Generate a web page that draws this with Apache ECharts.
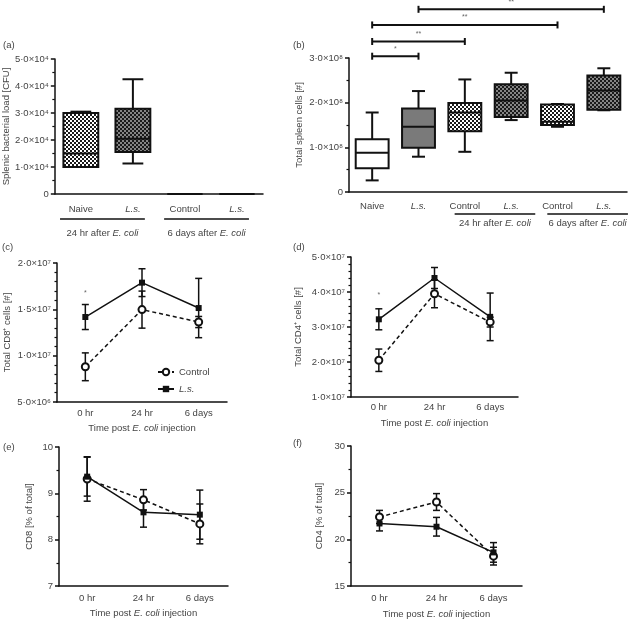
<!DOCTYPE html>
<html><head><meta charset="utf-8">
<script src="https://cdn.jsdelivr.net/npm/echarts@6/dist/echarts.min.js"></script>
<style>html,body{margin:0;padding:0;background:#fff}#c{width:630px;height:620px}</style>
</head><body><div id="c"></div>
<script>
// ---------------- data ----------------
const catsA = ['Naive', 'L.s.', 'Control', 'L.s.'];
const catsB = ['Naive', 'L.s.', 'Control', 'L.s.', 'Control', 'L.s.'];
const groupRangesA = [[0, 1], [2, 3]];
const groupRangesB = [[2, 3], [4, 5]];
const groupLabels = ['24 hr after {i|E. coli}', '6 days after {i|E. coli}'];
// [min, Q1, median, Q3, max]
const boxA = [
  [10000, 10000, 15000, 30000, 30500],
  [11300, 15600, 20500, 31600, 42500],
  [0, 0, 0, 0, 0],
  [0, 0, 0, 0, 0]
];
const boxB = [
  [0.26e8, 0.53e8, 0.88e8, 1.18e8, 1.78e8],
  [0.79e8, 0.99e8, 1.46e8, 1.87e8, 2.26e8],
  [0.90e8, 1.36e8, 1.78e8, 1.99e8, 2.52e8],
  [1.61e8, 1.68e8, 2.05e8, 2.41e8, 2.67e8],
  [1.46e8, 1.50e8, 1.57e8, 1.96e8, 1.97e8],
  [1.83e8, 1.84e8, 2.27e8, 2.61e8, 2.77e8]
];
// significance brackets in (b): [fromCat, toCat, level]
const sigBarsB = [[0, 1, 3.04e8], [0, 2, 3.37e8], [0, 4, 3.74e8], [1, 5, 4.09e8]];
const sigBarLabelsB = ['*', '**', '**', '**'];

const timeCats = ['0 hr', '24 hr', '6 days'];
const cd8CountCtrl = [8.8e6, 1.497e7, 1.363e7];
const cd8CountCtrlErr = [1.5e6, 2.0e6, 0.6e6];
const cd8CountLs = [1.417e7, 1.788e7, 1.514e7];
const cd8CountLsErr = [1.35e6, 1.5e6, 3.2e6];
const cd4CountCtrl = [2.05e7, 3.95e7, 3.14e7];
const cd4CountCtrlErr = [3.2e6, 4.0e6, 1.4e6];
const cd4CountLs = [3.22e7, 4.40e7, 3.29e7];
const cd4CountLsErr = [3.0e6, 3.0e6, 6.8e6];
const cd8PctCtrl = [9.31, 8.86, 8.34];
const cd8PctCtrlErr = [0.48, 0.22, 0.43];
const cd8PctLs = [9.36, 8.59, 8.54];
const cd8PctLsErr = [0.42, 0.32, 0.53];
const cd4PctCtrl = [22.4, 24.0, 18.2];
const cd4PctCtrlErr = [0.7, 0.9, 0.95];
const cd4PctLs = [21.7, 21.35, 18.6];
const cd4PctLsErr = [0.8, 1.0, 1.05];
const sigPointC = [[0, 1.676e7]];
const sigPointD = [[0, 3.91e7]];

const ticksA = ['0', '1·0×10⁴', '2·0×10⁴', '3·0×10⁴', '4·0×10⁴', '5·0×10⁴'];
const ticksB = ['0', '1·0×10⁸', '2·0×10⁸', '3·0×10⁸'];
const ticksC = ['5·0×10⁶', '1·0×10⁷', '1·5×10⁷', '2·0×10⁷'];
const ticksD = ['1·0×10⁷', '2·0×10⁷', '3·0×10⁷', '4·0×10⁷', '5·0×10⁷'];
const ticksE = ['7', '8', '9', '10'];
const ticksF = ['15', '20', '25', '30'];

// ---------------- styles ----------------
const FONT = 'Liberation Sans, Arial, Helvetica, sans-serif';
const FS = 9.5;
const TXT = '#444';
const INK = '#111';
function checker(a, b, s) {
  const c = document.createElement('canvas'); c.width = c.height = s * 2;
  const g = c.getContext('2d'); g.fillStyle = a; g.fillRect(0, 0, 2 * s, 2 * s);
  g.fillStyle = b; g.fillRect(0, 0, s, s); g.fillRect(s, s, s, s); return c;
}
const lightCheck = { image: checker('#ffffff', '#1a1a1a', 2), repeat: 'repeat' };
const darkCheck = { image: checker('#858585', '#1a1a1a', 2), repeat: 'repeat' };
const fillsA = [lightCheck, darkCheck, lightCheck, darkCheck];
const fillsB = ['#ffffff', '#7a7a7a', lightCheck, darkCheck, lightCheck, darkCheck];
const rich = { i: { fontStyle: 'italic', fontSize: FS, color: TXT, fontFamily: FONT } };

function boxRender(fills, bwFrac, capFrac) {
  return function (params, api) {
    const i = params.dataIndex, x = api.value(0);
    const v = [1, 2, 3, 4, 5].map(k => api.value(k));
    const band = api.size([1, 0])[0];
    const bw = band * bwFrac, cw = band * capFrac;
    const cx = api.coord([x, v[2]])[0];
    const Y = t => api.coord([x, t])[1];
    const st = { stroke: INK, lineWidth: 2 };
    return { type: 'group', children: [
      { type: 'line', shape: { x1: cx, y1: Y(v[0]), x2: cx, y2: Y(v[1]) }, style: st },
      { type: 'line', shape: { x1: cx, y1: Y(v[3]), x2: cx, y2: Y(v[4]) }, style: st },
      { type: 'line', shape: { x1: cx - cw / 2, y1: Y(v[0]), x2: cx + cw / 2, y2: Y(v[0]) }, style: st },
      { type: 'line', shape: { x1: cx - cw / 2, y1: Y(v[4]), x2: cx + cw / 2, y2: Y(v[4]) }, style: st },
      { type: 'rect', shape: { x: cx - bw / 2, y: Y(v[3]), width: bw, height: Y(v[1]) - Y(v[3]) }, style: { fill: fills[i], stroke: INK, lineWidth: 2 } },
      { type: 'line', shape: { x1: cx - bw / 2, y1: Y(v[2]), x2: cx + bw / 2, y2: Y(v[2]) }, style: st }
    ] };
  };
}
function groupRender(cfg) {
  return function (params, api) {
    const s = api.value(0), e = api.value(1);
    const band = api.size([1, 0])[0];
    const p0 = api.coord([s, 0]), p1 = api.coord([e, 0]);
    const x0 = p0[0] - band * cfg.l, x1 = p1[0] + band * cfg.r, yl = p0[1] + cfg.lineOff;
    return { type: 'group', children: [
      { type: 'line', shape: { x1: x0, y1: yl, x2: x1, y2: yl }, style: { stroke: INK, lineWidth: 1.5 } },
      { type: 'text', x: (x0 + x1) / 2, y: yl + cfg.textOff, style: { text: groupLabels[params.dataIndex], fill: TXT, fontSize: FS, fontFamily: FONT, align: 'center', verticalAlign: 'middle', rich: rich } }
    ] };
  };
}
function sigRender(params, api) {
  const p0 = api.coord([api.value(0), api.value(2)]), p1 = api.coord([api.value(1), api.value(2)]);
  const st = { stroke: INK, lineWidth: 2 };
  return { type: 'group', children: [
    { type: 'line', shape: { x1: p0[0], y1: p0[1], x2: p1[0], y2: p1[1] }, style: st },
    { type: 'line', shape: { x1: p0[0], y1: p0[1] - 3.5, x2: p0[0], y2: p0[1] + 3.5 }, style: st },
    { type: 'line', shape: { x1: p1[0], y1: p1[1] - 3.5, x2: p1[0], y2: p1[1] + 3.5 }, style: st },
    { type: 'text', x: (p0[0] + p1[0]) / 2, y: p0[1] - 4, style: { text: sigBarLabelsB[params.dataIndex], fill: '#666', fontSize: 7, fontFamily: FONT, align: 'center', verticalAlign: 'bottom' } }
  ] };
}
function starRender(params, api) {
  const p = api.coord([api.value(0), api.value(1)]);
  return { type: 'text', x: p[0], y: p[1], style: { text: '*', fill: '#666', fontSize: 7, fontFamily: FONT, align: 'center', verticalAlign: 'middle' } };
}
function errRender(params, api) {
  const x = api.value(0);
  const p1 = api.coord([x, api.value(1)]), p2 = api.coord([x, api.value(2)]);
  const hw = 3.5, st = { stroke: INK, lineWidth: 1.5 };
  return { type: 'group', children: [
    { type: 'line', shape: { x1: p1[0], y1: p1[1], x2: p2[0], y2: p2[1] }, style: st },
    { type: 'line', shape: { x1: p1[0] - hw, y1: p1[1], x2: p1[0] + hw, y2: p1[1] }, style: st },
    { type: 'line', shape: { x1: p2[0] - hw, y1: p2[1], x2: p2[0] + hw, y2: p2[1] }, style: st }
  ] };
}
const errData = (m, e) => m.map((v, i) => [i, v - e[i], v + e[i]]);

function catAxis(grid, data, margin, extra) {
  return Object.assign({
    type: 'category', gridIndex: grid, data: data, boundaryGap: true,
    axisLine: { onZero: false, lineStyle: { color: INK, width: 1.5 } },
    axisTick: { alignWithLabel: true, interval: 0, length: 4, lineStyle: { color: INK, width: 1.5 } },
    axisLabel: { interval: 0, fontSize: FS, color: TXT, fontFamily: FONT, margin: margin,
      formatter: n => n === 'L.s.' ? '{i|L.s.}' : n, rich: rich },
    splitLine: { show: false }
  }, extra || {});
}
const timeAxisName = {
  name: 'Time post {i|E. coli} injection', nameLocation: 'middle',
  nameTextStyle: { fontSize: FS, color: TXT, fontFamily: FONT, rich: rich }
};
function valAxis(grid, min, max, interval, labels, minorSplit, name, nameGap) {
  return {
    type: 'value', gridIndex: grid, min: min, max: max, interval: interval,
    name: name, nameLocation: 'middle', nameGap: nameGap,
    nameTextStyle: { fontSize: FS, color: TXT, fontFamily: FONT },
    axisLine: { show: true, lineStyle: { color: INK, width: 1.5 } },
    axisTick: { show: true, length: 4, lineStyle: { color: INK, width: 1.5 } },
    minorTick: { show: true, splitNumber: minorSplit, length: 2.5, lineStyle: { color: INK, width: 1.2 } },
    axisLabel: { fontSize: FS, color: TXT, fontFamily: FONT, margin: 6,
      formatter: v => labels[Math.round((v - min) / interval)] },
    splitLine: { show: false }
  };
}
function lineSeries(name, data, gi) {
  const ctrl = name === 'Control';
  return {
    type: 'line', name: name, xAxisIndex: gi, yAxisIndex: gi, data: data, z: 5,
    symbol: ctrl ? 'circle' : 'rect', symbolSize: ctrl ? 7 : 6,
    lineStyle: { color: INK, width: 1.5, type: ctrl ? [4, 3] : 'solid' },
    itemStyle: ctrl ? { color: '#fff', borderColor: INK, borderWidth: 2 } : { color: INK, borderWidth: 0 }
  };
}
const errSeries = (m, e, gi) => ({ type: 'custom', xAxisIndex: gi, yAxisIndex: gi, data: errData(m, e), renderItem: errRender, encode: { x: 0, y: [1, 2] }, z: 3, silent: true });
const panelLabel = (t, l, tp) => ({ type: 'text', left: l, top: tp, style: { text: t, fontSize: FS, fill: TXT, fontFamily: FONT } });

const option = {
  animation: false,
  backgroundColor: '#fff',
  textStyle: { fontFamily: FONT },
  grid: [
    { left: 53, top: 59, width: 210, height: 135 },
    { left: 349, top: 58, width: 278, height: 134 },
    { left: 57, top: 263, width: 170, height: 139 },
    { left: 351, top: 257, width: 167, height: 140 },
    { left: 59, top: 447, width: 169, height: 139 },
    { left: 351, top: 446, width: 171, height: 140 }
  ],
  xAxis: [
    catAxis(0, catsA, 10),
    catAxis(1, catsB, 9),
    catAxis(2, timeCats, 6, Object.assign({ nameGap: 21 }, timeAxisName)),
    catAxis(3, timeCats, 5, Object.assign({ nameGap: 21 }, timeAxisName)),
    catAxis(4, timeCats, 7, Object.assign({ nameGap: 22 }, timeAxisName)),
    catAxis(5, timeCats, 7, Object.assign({ nameGap: 23 }, timeAxisName))
  ],
  yAxis: [
    valAxis(0, 0, 5e4, 1e4, ticksA, 2, 'Splenic bacterial load [CFU]', 43),
    valAxis(1, 0, 3e8, 1e8, ticksB, 2, 'Total spleen cells [#]', 45),
    valAxis(2, 5e6, 2e7, 5e6, ticksC, 5, 'Total CD8⁺ cells [#]', 45),
    valAxis(3, 1e7, 5e7, 1e7, ticksD, 5, 'Total CD4⁺ cells [#]', 48),
    valAxis(4, 7, 10, 1, ticksE, 2, 'CD8 [% of total]', 25),
    valAxis(5, 15, 30, 5, ticksF, 2, 'CD4 [% of total]', 27)
  ],
  legend: {
    data: ['Control', 'L.s.'], orient: 'vertical', left: 152, top: 362,
    itemWidth: 16, itemHeight: 8, itemGap: 7,
    textStyle: { fontSize: FS, color: TXT, fontFamily: FONT, rich: rich },
    formatter: n => n === 'L.s.' ? '{i|L.s.}' : n
  },
  graphic: [
    panelLabel('(a)', 3, 40), panelLabel('(b)', 293, 40),
    panelLabel('(c)', 2, 242), panelLabel('(d)', 293, 242),
    panelLabel('(e)', 3, 442), panelLabel('(f)', 293, 438)
  ],
  series: [
    { type: 'custom', xAxisIndex: 0, yAxisIndex: 0, data: boxA.map((b, i) => [i].concat(b)), renderItem: boxRender(fillsA, 0.67, 0.4), encode: { x: 0, y: [1, 2, 3, 4, 5] }, z: 3 },
    { type: 'custom', xAxisIndex: 0, yAxisIndex: 0, data: groupRangesA, renderItem: groupRender({ l: 0.4, r: 0.23, lineOff: 25, textOff: 14 }), encode: { x: [0, 1] }, clip: false },
    { type: 'custom', xAxisIndex: 1, yAxisIndex: 1, data: boxB.map((b, i) => [i].concat(b)), renderItem: boxRender(fillsB, 0.71, 0.28), encode: { x: 0, y: [1, 2, 3, 4, 5] }, z: 3 },
    { type: 'custom', xAxisIndex: 1, yAxisIndex: 1, data: groupRangesB, renderItem: groupRender({ l: 0.22, r: 0.52, lineOff: 22, textOff: 9 }), encode: { x: [0, 1] }, clip: false },
    { type: 'custom', xAxisIndex: 1, yAxisIndex: 1, data: sigBarsB, renderItem: sigRender, encode: { x: [0, 1], y: 2 }, clip: false },
    // (c)
    errSeries(cd8CountCtrl, cd8CountCtrlErr, 2), errSeries(cd8CountLs, cd8CountLsErr, 2),
    lineSeries('Control', cd8CountCtrl, 2), lineSeries('L.s.', cd8CountLs, 2),
    { type: 'custom', xAxisIndex: 2, yAxisIndex: 2, data: sigPointC, renderItem: starRender, encode: { x: 0, y: 1 } },
    // (d)
    errSeries(cd4CountCtrl, cd4CountCtrlErr, 3), errSeries(cd4CountLs, cd4CountLsErr, 3),
    lineSeries('Control', cd4CountCtrl, 3), lineSeries('L.s.', cd4CountLs, 3),
    { type: 'custom', xAxisIndex: 3, yAxisIndex: 3, data: sigPointD, renderItem: starRender, encode: { x: 0, y: 1 } },
    // (e)
    errSeries(cd8PctCtrl, cd8PctCtrlErr, 4), errSeries(cd8PctLs, cd8PctLsErr, 4),
    lineSeries('Control', cd8PctCtrl, 4), lineSeries('L.s.', cd8PctLs, 4),
    // (f)
    errSeries(cd4PctCtrl, cd4PctCtrlErr, 5), errSeries(cd4PctLs, cd4PctLsErr, 5),
    lineSeries('Control', cd4PctCtrl, 5), lineSeries('L.s.', cd4PctLs, 5)
  ]
};
const chart = echarts.init(document.getElementById('c'), null, { renderer: 'canvas' });
chart.setOption(option);
</script>
</body></html>
